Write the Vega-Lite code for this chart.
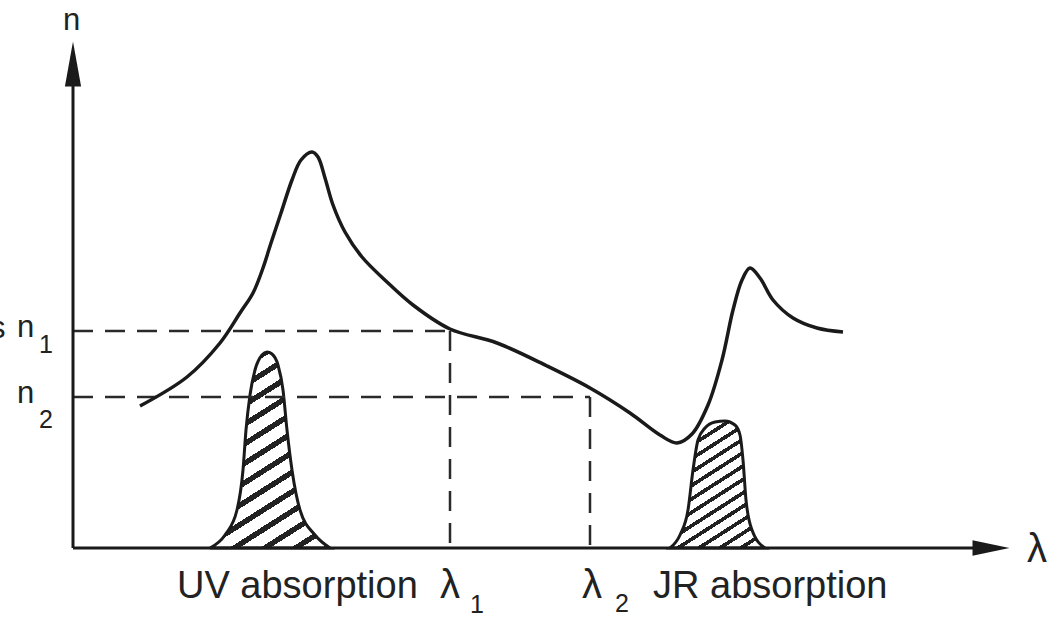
{
  "$schema": "https://vega.github.io/schema/vega-lite/v6.json",
  "width": 1054,
  "height": 620,
  "autosize": {"type": "none"},
  "padding": 0,
  "background": "white",
  "config": {"view": {"stroke": null}},
  "datasets": {
    "curve": [
      {"x": 67, "y": 142}, {"x": 114, "y": 171}, {"x": 147, "y": 205}, {"x": 167, "y": 235},
      {"x": 180, "y": 255}, {"x": 190, "y": 280}, {"x": 198, "y": 305}, {"x": 208, "y": 335},
      {"x": 219, "y": 368}, {"x": 228, "y": 388}, {"x": 239, "y": 396}, {"x": 245, "y": 391},
      {"x": 252, "y": 370}, {"x": 260, "y": 343}, {"x": 272, "y": 316}, {"x": 289, "y": 291},
      {"x": 314, "y": 266}, {"x": 340, "y": 243}, {"x": 377, "y": 219}, {"x": 424, "y": 205},
      {"x": 474, "y": 182}, {"x": 517, "y": 160}, {"x": 557, "y": 135}, {"x": 587, "y": 113},
      {"x": 604, "y": 105}, {"x": 619, "y": 114}, {"x": 635, "y": 143}, {"x": 649, "y": 188},
      {"x": 660, "y": 238}, {"x": 669, "y": 268}, {"x": 677, "y": 280}, {"x": 687, "y": 270},
      {"x": 700, "y": 248}, {"x": 720, "y": 230}, {"x": 744, "y": 220}, {"x": 770, "y": 216}
    ],
    "peaks": [
      {"band": "UV", "x": 137, "y": 0}, {"band": "UV", "x": 152, "y": 13}, {"band": "UV", "x": 164, "y": 38},
      {"band": "UV", "x": 170, "y": 78}, {"band": "UV", "x": 173, "y": 118}, {"band": "UV", "x": 177, "y": 153},
      {"band": "UV", "x": 182, "y": 178}, {"band": "UV", "x": 189, "y": 193}, {"band": "UV", "x": 194, "y": 196},
      {"band": "UV", "x": 199, "y": 194}, {"band": "UV", "x": 205, "y": 183}, {"band": "UV", "x": 210, "y": 158},
      {"band": "UV", "x": 214, "y": 118}, {"band": "UV", "x": 219, "y": 78}, {"band": "UV", "x": 227, "y": 38},
      {"band": "UV", "x": 242, "y": 13}, {"band": "UV", "x": 257, "y": 0},
      {"band": "IR", "x": 597, "y": 0}, {"band": "IR", "x": 607, "y": 13}, {"band": "IR", "x": 615, "y": 38},
      {"band": "IR", "x": 620, "y": 78}, {"band": "IR", "x": 625, "y": 108}, {"band": "IR", "x": 632, "y": 120},
      {"band": "IR", "x": 642, "y": 126}, {"band": "IR", "x": 652, "y": 127}, {"band": "IR", "x": 662, "y": 123},
      {"band": "IR", "x": 667, "y": 113}, {"band": "IR", "x": 670, "y": 88}, {"band": "IR", "x": 673, "y": 48},
      {"band": "IR", "x": 679, "y": 18}, {"band": "IR", "x": 692, "y": 0}
    ],
    "dash": [
      {"x": 0, "y": 217, "x2": 377, "y2": 217},
      {"x": 377, "y": 217, "x2": 377, "y2": 0},
      {"x": 0, "y": 151, "x2": 517, "y2": 151},
      {"x": 517, "y": 151, "x2": 517, "y2": 0}
    ],
    "axes": [
      {"x": 0, "y": 0, "x2": 0, "y2": 480},
      {"x": 0, "y": 0, "x2": 915, "y2": 0}
    ],
    "arrowUp": [{"x": 0, "y": 484}],
    "arrowRight": [{"x": 918, "y": 0}],
    "big": [
      {"label": "UV absorption", "x": 104, "y": -50},
      {"label": "JR absorption", "x": 580, "y": -50}
    ],
    "greek": [
      {"label": "λ", "x": 367, "y": -50},
      {"label": "λ", "x": 509, "y": -50},
      {"label": "λ", "x": 954, "y": -14}
    ],
    "nlab": [
      {"label": "n", "x": -10, "y": 518},
      {"label": "n", "x": -56, "y": 211},
      {"label": "n", "x": -56, "y": 145},
      {"label": "s", "x": -83, "y": 210}
    ],
    "sub": [
      {"label": "1", "x": -34, "y": 195},
      {"label": "2", "x": -34, "y": 120},
      {"label": "1", "x": 397, "y": -65},
      {"label": "2", "x": 542, "y": -64}
    ]
  },
  "encoding": {
    "x": {"field": "x", "type": "quantitative", "scale": {"domain": [-73, 981], "nice": false, "zero": false}, "axis": null},
    "y": {"field": "y", "type": "quantitative", "scale": {"domain": [-72, 548], "nice": false, "zero": false}, "axis": null}
  },
  "layer": [
    {
      "data": {"name": "peaks"},
      "transform": [{"filter": "datum.band == 'UV'"}],
      "mark": {
        "type": "area", "interpolate": "monotone", "stroke": "#1a1a1a", "strokeWidth": 3, "opacity": 1,
        "fill": {"gradient": "linear", "x1": 0, "y1": 0, "x2": 0.47, "y2": 1.21, "stops": [
          {"offset": 0, "color": "white"}, {"offset": 0.048, "color": "white"}, {"offset": 0.048, "color": "#222"}, {"offset": 0.0714, "color": "#222"},
          {"offset": 0.0714, "color": "white"}, {"offset": 0.1194, "color": "white"}, {"offset": 0.1194, "color": "#222"}, {"offset": 0.1429, "color": "#222"},
          {"offset": 0.1429, "color": "white"}, {"offset": 0.1909, "color": "white"}, {"offset": 0.1909, "color": "#222"}, {"offset": 0.2143, "color": "#222"},
          {"offset": 0.2143, "color": "white"}, {"offset": 0.2623, "color": "white"}, {"offset": 0.2623, "color": "#222"}, {"offset": 0.2857, "color": "#222"},
          {"offset": 0.2857, "color": "white"}, {"offset": 0.3337, "color": "white"}, {"offset": 0.3337, "color": "#222"}, {"offset": 0.3571, "color": "#222"},
          {"offset": 0.3571, "color": "white"}, {"offset": 0.4051, "color": "white"}, {"offset": 0.4051, "color": "#222"}, {"offset": 0.4286, "color": "#222"},
          {"offset": 0.4286, "color": "white"}, {"offset": 0.4766, "color": "white"}, {"offset": 0.4766, "color": "#222"}, {"offset": 0.5, "color": "#222"},
          {"offset": 0.5, "color": "white"}, {"offset": 0.548, "color": "white"}, {"offset": 0.548, "color": "#222"}, {"offset": 0.5714, "color": "#222"},
          {"offset": 0.5714, "color": "white"}, {"offset": 0.6194, "color": "white"}, {"offset": 0.6194, "color": "#222"}, {"offset": 0.6429, "color": "#222"},
          {"offset": 0.6429, "color": "white"}, {"offset": 0.6909, "color": "white"}, {"offset": 0.6909, "color": "#222"}, {"offset": 0.7143, "color": "#222"},
          {"offset": 0.7143, "color": "white"}, {"offset": 0.7623, "color": "white"}, {"offset": 0.7623, "color": "#222"}, {"offset": 0.7857, "color": "#222"},
          {"offset": 0.7857, "color": "white"}, {"offset": 0.8337, "color": "white"}, {"offset": 0.8337, "color": "#222"}, {"offset": 0.8571, "color": "#222"},
          {"offset": 0.8571, "color": "white"}, {"offset": 0.9051, "color": "white"}, {"offset": 0.9051, "color": "#222"}, {"offset": 0.9286, "color": "#222"},
          {"offset": 0.9286, "color": "white"}, {"offset": 0.9766, "color": "white"}, {"offset": 0.9766, "color": "#222"}, {"offset": 1, "color": "#222"}
        ]}
      },
      "encoding": {"y2": {"datum": 0}}
    },
    {
      "data": {"name": "peaks"},
      "transform": [{"filter": "datum.band == 'IR'"}],
      "mark": {
        "type": "area", "interpolate": "monotone", "stroke": "#1a1a1a", "strokeWidth": 3, "opacity": 1,
        "fill": {"gradient": "linear", "x1": 0, "y1": 0, "x2": 0.576, "y2": 1.204, "stops": [
          {"offset": 0, "color": "white"}, {"offset": 0.048, "color": "white"}, {"offset": 0.048, "color": "#222"}, {"offset": 0.0714, "color": "#222"},
          {"offset": 0.0714, "color": "white"}, {"offset": 0.1194, "color": "white"}, {"offset": 0.1194, "color": "#222"}, {"offset": 0.1429, "color": "#222"},
          {"offset": 0.1429, "color": "white"}, {"offset": 0.1909, "color": "white"}, {"offset": 0.1909, "color": "#222"}, {"offset": 0.2143, "color": "#222"},
          {"offset": 0.2143, "color": "white"}, {"offset": 0.2623, "color": "white"}, {"offset": 0.2623, "color": "#222"}, {"offset": 0.2857, "color": "#222"},
          {"offset": 0.2857, "color": "white"}, {"offset": 0.3337, "color": "white"}, {"offset": 0.3337, "color": "#222"}, {"offset": 0.3571, "color": "#222"},
          {"offset": 0.3571, "color": "white"}, {"offset": 0.4051, "color": "white"}, {"offset": 0.4051, "color": "#222"}, {"offset": 0.4286, "color": "#222"},
          {"offset": 0.4286, "color": "white"}, {"offset": 0.4766, "color": "white"}, {"offset": 0.4766, "color": "#222"}, {"offset": 0.5, "color": "#222"},
          {"offset": 0.5, "color": "white"}, {"offset": 0.548, "color": "white"}, {"offset": 0.548, "color": "#222"}, {"offset": 0.5714, "color": "#222"},
          {"offset": 0.5714, "color": "white"}, {"offset": 0.6194, "color": "white"}, {"offset": 0.6194, "color": "#222"}, {"offset": 0.6429, "color": "#222"},
          {"offset": 0.6429, "color": "white"}, {"offset": 0.6909, "color": "white"}, {"offset": 0.6909, "color": "#222"}, {"offset": 0.7143, "color": "#222"},
          {"offset": 0.7143, "color": "white"}, {"offset": 0.7623, "color": "white"}, {"offset": 0.7623, "color": "#222"}, {"offset": 0.7857, "color": "#222"},
          {"offset": 0.7857, "color": "white"}, {"offset": 0.8337, "color": "white"}, {"offset": 0.8337, "color": "#222"}, {"offset": 0.8571, "color": "#222"},
          {"offset": 0.8571, "color": "white"}, {"offset": 0.9051, "color": "white"}, {"offset": 0.9051, "color": "#222"}, {"offset": 0.9286, "color": "#222"},
          {"offset": 0.9286, "color": "white"}, {"offset": 0.9766, "color": "white"}, {"offset": 0.9766, "color": "#222"}, {"offset": 1, "color": "#222"}
        ]}
      },
      "encoding": {"y2": {"datum": 0}}
    },
    {
      "data": {"name": "dash"},
      "mark": {"type": "rule", "color": "#2a2a2a", "strokeWidth": 2.5, "strokeDash": [20, 12]},
      "encoding": {"x2": {"field": "x2"}, "y2": {"field": "y2"}}
    },
    {
      "data": {"name": "axes"},
      "mark": {"type": "rule", "color": "#1a1a1a", "strokeWidth": 3},
      "encoding": {"x2": {"field": "x2"}, "y2": {"field": "y2"}}
    },
    {
      "data": {"name": "arrowUp"},
      "mark": {"type": "point", "shape": "M-0.36,1 L0,-1 L0.36,1 Z", "filled": true, "color": "#1a1a1a", "opacity": 1, "size": 2025, "strokeWidth": 0}
    },
    {
      "data": {"name": "arrowRight"},
      "mark": {"type": "point", "shape": "M-1,-0.42 L1,0 L-1,0.42 Z", "filled": true, "color": "#1a1a1a", "opacity": 1, "size": 1369, "strokeWidth": 0}
    },
    {
      "data": {"name": "curve"},
      "mark": {"type": "line", "interpolate": "catmull-rom", "color": "#1a1a1a", "strokeWidth": 3.5}
    },
    {
      "data": {"name": "big"},
      "mark": {"type": "text", "font": "Liberation Sans", "fontSize": 38, "align": "left", "baseline": "alphabetic", "color": "#222"},
      "encoding": {"text": {"field": "label"}}
    },
    {
      "data": {"name": "greek"},
      "mark": {"type": "text", "font": "Liberation Sans", "fontSize": 40, "align": "left", "baseline": "alphabetic", "color": "#222"},
      "encoding": {"text": {"field": "label"}}
    },
    {
      "data": {"name": "nlab"},
      "mark": {"type": "text", "font": "Liberation Sans", "fontSize": 31, "align": "left", "baseline": "alphabetic", "color": "#222"},
      "encoding": {"text": {"field": "label"}}
    },
    {
      "data": {"name": "sub"},
      "mark": {"type": "text", "font": "Liberation Sans", "fontSize": 25, "align": "left", "baseline": "alphabetic", "color": "#222"},
      "encoding": {"text": {"field": "label"}}
    }
  ]
}
